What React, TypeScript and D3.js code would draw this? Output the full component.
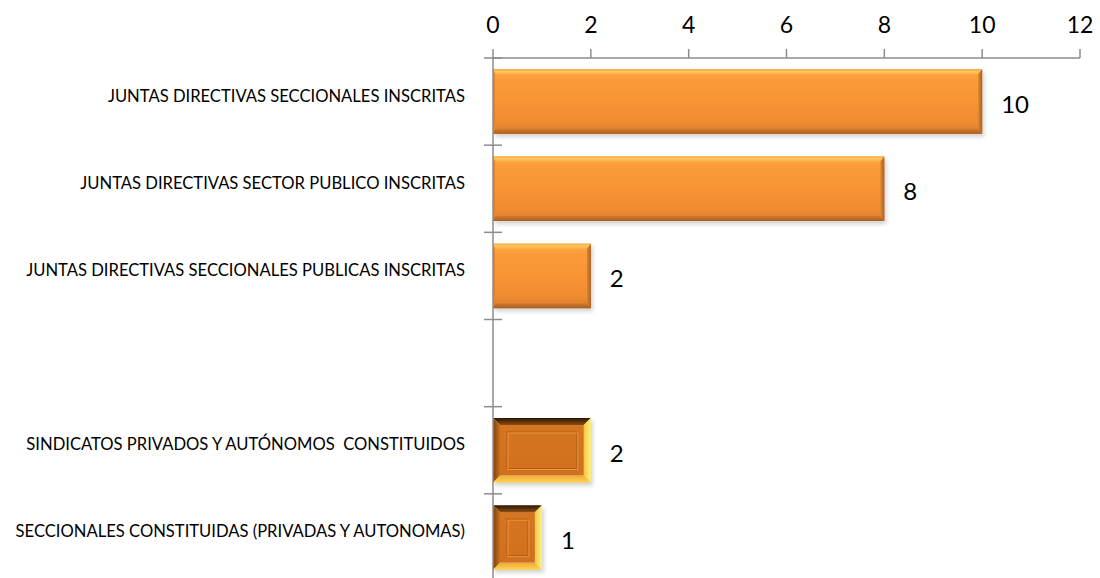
import React from 'react';
import * as d3 from 'd3';

const categories = [
  'JUNTAS DIRECTIVAS SECCIONALES INSCRITAS',
  'JUNTAS DIRECTIVAS SECTOR PUBLICO INSCRITAS',
  'JUNTAS DIRECTIVAS SECCIONALES PUBLICAS INSCRITAS',
  '',
  'SINDICATOS PRIVADOS Y AUTÓNOMOS  CONSTITUIDOS',
  'SECCIONALES CONSTITUIDAS (PRIVADAS Y AUTONOMAS)',
];
const values: (number | null)[] = [10, 8, 2, null, 2, 1];
const barKinds = ['orange', 'orange', 'orange', 'none', 'deco', 'deco'];
const xTicks = [0, 2, 4, 6, 8, 10, 12];

const W = 1100;
const H = 578;
const FONT = 'Lato, "Open Sans", sans-serif';

export default function App() {
  const x = d3.scaleLinear().domain([0, 12]).range([493, 1080]);
  const keys = categories.map((_, i) => String(i));
  const y = d3.scaleBand().domain(keys).range([58, 581]).paddingInner(0.26).paddingOuter(0.13);
  const top = 58;

  const orangeBar = (i: number, v: number) => {
    const x0 = x(0);
    const x1 = x(v);
    const y0 = y(String(i))!;
    const h = y.bandwidth();
    const y1 = y0 + h;
    const bt = 5;
    const br = 4;
    const bl = 2;
    return (
      <g key={'b' + i}>
        <rect x={x0 + 2} y={y0 + 3} width={x1 - x0} height={h} fill="rgba(0,0,0,0.18)" filter="url(#blur)" />
        <rect x={x0} y={y0} width={x1 - x0} height={h} fill="url(#orangeMain)" />
        <polygon points={`${x0},${y0} ${x1},${y0} ${x1 - br},${y0 + bt} ${x0 + bl},${y0 + bt}`} fill="url(#orangeTop)" />
        <polygon points={`${x0},${y1} ${x1},${y1} ${x1 - br},${y1 - bt} ${x0 + bl},${y1 - bt}`} fill="url(#orangeBottom)" />
        <polygon points={`${x1},${y0} ${x1},${y1} ${x1 - br},${y1 - bt} ${x1 - br},${y0 + bt}`} fill="url(#orangeRight)" />
        <polygon points={`${x0},${y0} ${x0 + bl},${y0 + bt} ${x0 + bl},${y1 - bt} ${x0},${y1}`} fill="#E0842F" />
      </g>
    );
  };

  const decoBar = (i: number, v: number) => {
    const x0 = x(0);
    const x1 = x(v);
    const y0 = y(String(i))!;
    const h = y.bandwidth();
    const y1 = y0 + h;
    const b = 7;
    const ib = 14;
    return (
      <g key={'b' + i}>
        <rect x={x0 + 2} y={y0 + 3} width={x1 - x0} height={h} fill="rgba(0,0,0,0.18)" filter="url(#blur)" />
        <rect x={x0 + b} y={y0 + b} width={x1 - x0 - 2 * b} height={h - 2 * b} fill="url(#decoCenter)" />
        <polygon points={`${x0},${y0} ${x1},${y0} ${x1 - b},${y0 + b} ${x0 + b},${y0 + b}`} fill="url(#decoTop)" />
        <polygon points={`${x0},${y0} ${x0 + b},${y0 + b} ${x0 + b},${y1 - b} ${x0},${y1}`} fill="url(#decoLeft)" />
        <polygon points={`${x0},${y1} ${x1},${y1} ${x1 - b},${y1 - b} ${x0 + b},${y1 - b}`} fill="url(#decoBottom)" />
        <polygon points={`${x1},${y0} ${x1},${y1} ${x1 - b},${y1 - b} ${x1 - b},${y0 + b}`} fill="url(#decoRight)" />
        <rect x={x0 + ib} y={y0 + ib} width={x1 - x0 - 2 * ib} height={h - 2 * ib} fill="none" stroke="#B35A14" strokeWidth={1} />
        <rect x={x0 + ib + 1} y={y0 + ib + 1} width={x1 - x0 - 2 * ib} height={h - 2 * ib} fill="none" stroke="#E8953E" strokeWidth={1} />
      </g>
    );
  };

  return (
    <svg width={W} height={H} style={{ position: 'absolute', left: 0, top: 0, background: '#fff' }}>
      <defs>
        <filter id="blur" x="-10%" y="-20%" width="120%" height="140%">
          <feGaussianBlur stdDeviation="2" />
        </filter>
        <linearGradient id="orangeMain" x1="0" y1="0" x2="0" y2="1">
          <stop offset="0" stopColor="#FBB04A" />
          <stop offset="0.15" stopColor="#FA9B38" />
          <stop offset="0.5" stopColor="#F89434" />
          <stop offset="0.8" stopColor="#F08C31" />
          <stop offset="1" stopColor="#DB7E2D" />
        </linearGradient>
        <linearGradient id="orangeTop" x1="0" y1="0" x2="0" y2="1">
          <stop offset="0" stopColor="#F5A040" />
          <stop offset="0.4" stopColor="#FDC65A" />
          <stop offset="1" stopColor="#FBB048" />
        </linearGradient>
        <linearGradient id="orangeBottom" x1="0" y1="1" x2="0" y2="0">
          <stop offset="0" stopColor="#A85E22" />
          <stop offset="1" stopColor="#D27A2E" />
        </linearGradient>
        <linearGradient id="orangeRight" x1="1" y1="0" x2="0" y2="0">
          <stop offset="0" stopColor="#A9602A" />
          <stop offset="1" stopColor="#E08630" />
        </linearGradient>
        <linearGradient id="decoCenter" x1="0" y1="0" x2="0" y2="1">
          <stop offset="0" stopColor="#D67621" />
          <stop offset="1" stopColor="#D0701E" />
        </linearGradient>
        <linearGradient id="decoTop" x1="0" y1="0" x2="0" y2="1">
          <stop offset="0" stopColor="#2A1503" />
          <stop offset="1" stopColor="#8E4E15" />
        </linearGradient>
        <linearGradient id="decoLeft" x1="0" y1="0" x2="1" y2="0">
          <stop offset="0" stopColor="#7E3F0C" />
          <stop offset="1" stopColor="#C7701F" />
        </linearGradient>
        <linearGradient id="decoBottom" x1="0" y1="0" x2="0" y2="1">
          <stop offset="0" stopColor="#EFA83A" />
          <stop offset="1" stopColor="#FFD54C" />
        </linearGradient>
        <linearGradient id="decoRight" x1="0" y1="0" x2="1" y2="0">
          <stop offset="0" stopColor="#F7C545" />
          <stop offset="1" stopColor="#FFF27A" />
        </linearGradient>
      </defs>

      {/* bars */}
      {values.map((v, i) => {
        if (v == null) return null;
        return barKinds[i] === 'deco' ? decoBar(i, v) : orangeBar(i, v);
      })}

      {/* axes */}
      <g stroke="#8C8C8C" strokeWidth={1.5}>
        <line x1={x(0)} x2={x(0)} y1={top} y2={H} />
        <line x1={x(0)} x2={x(12)} y1={top} y2={top} />
        {xTicks.map((t) => (
          <line key={'xt' + t} x1={x(t)} x2={x(t)} y1={top - 9} y2={top} />
        ))}
        {keys.map((k) => (
          <line key={'yt' + k} x1={x(0) - 9} x2={x(0) + 9} y1={y(k)! - (y.step() * y.paddingInner()) / 2} y2={y(k)! - (y.step() * y.paddingInner()) / 2} />
        ))}
      </g>

      {/* x tick labels */}
      {xTicks.map((t) => (
        <text key={'xl' + t} x={x(t)} y={24} textAnchor="middle" dominantBaseline="central" fontFamily={FONT} fontSize={23} fill="#000">
          {t}
        </text>
      ))}

      {/* category labels */}
      {categories.map((c, i) => (
        <text key={'cl' + i} x={465} y={y(String(i))! + y.bandwidth() / 2 - 6} textAnchor="end" dominantBaseline="central" fontFamily={FONT} fontSize={16.6} fill="#000" style={{ whiteSpace: 'pre' }}>
          {c}
        </text>
      ))}

      {/* value labels */}
      {values.map((v, i) =>
        v == null ? null : (
          <text key={'vl' + i} x={x(v) + 19} y={y(String(i))! + y.bandwidth() / 2 + 2} textAnchor="start" dominantBaseline="central" fontFamily={FONT} fontSize={24} fill="#000">
            {v}
          </text>
        )
      )}
    </svg>
  );
}
